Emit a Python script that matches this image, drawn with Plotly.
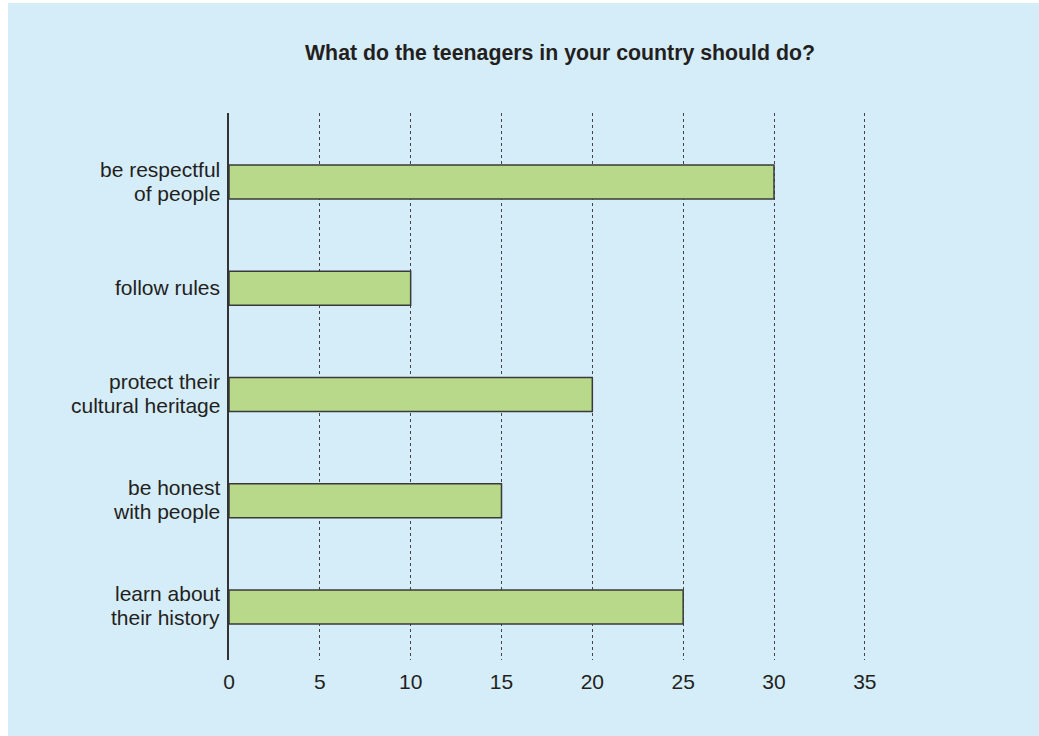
import plotly.graph_objects as go

categories = ["be respectful of people", "follow rules", "protect their cultural heritage",
              "be honest with people", "learn about their history"]
label_lines = [["be respectful", "of people"], ["follow rules"],
               ["protect their", "cultural heritage"], ["be honest", "with people"],
               ["learn about", "their history"]]
values = [30, 10, 20, 15, 25]
x_ticks = [0, 5, 10, 15, 20, 25, 30, 35]
title = "What do the teenagers in your country should do?"

W, H = 1031, 733
BG = "#d5ecf9"
FONT = "Liberation Sans, Arial, sans-serif"
TXT = "#231f20"

fig = go.Figure(go.Bar(
    x=values, y=categories, orientation="h", width=0.32,
    marker=dict(color="#b8d98a", line=dict(color="#3a3a3a", width=1.5)),
    hoverinfo="skip",
))

left, right, top, bottom = 221, 875, 110, 657
fig.update_layout(
    width=W, height=H,
    margin=dict(l=left, r=W - right, t=top, b=H - bottom, pad=0),
    paper_bgcolor=BG, plot_bgcolor=BG,
    showlegend=False,
    font=dict(family=FONT, size=20, color=TXT),
    title=dict(text="<b>" + title + "</b>", x=552 / W, xanchor="center",
               y=1 - 50 / H, yanchor="middle", yref="container",
               font=dict(family=FONT, size=21.3, color=TXT)),
    xaxis=dict(range=[0, 36], tickvals=x_ticks, ticks="", showline=False,
               zeroline=False, showgrid=True, gridcolor="#444444", griddash="dot",
               gridwidth=1.4, tickfont=dict(size=21), ticklabelstandoff=7),
    yaxis=dict(categoryorder="array", categoryarray=categories,
               range=[4.5, -0.65], showline=True, linecolor="#333333", linewidth=2,
               ticks="", showgrid=False, zeroline=False, showticklabels=False),
)

for cat, lines in zip(categories, label_lines):
    n = len(lines)
    for i, line in enumerate(lines):
        shift = (n - 1) * 12 - i * 24 + 1
        fig.add_annotation(text=line, x=-7 / (right - left), xref="paper",
                           y=cat, yref="y", xanchor="right", yanchor="middle",
                           yshift=shift, showarrow=False,
                           font=dict(family=FONT, size=21, color=TXT))

fig.write_html("out.html",
               post_script="document.body.style.margin='3px 0 0 8px';document.body.style.overflow='hidden';")
